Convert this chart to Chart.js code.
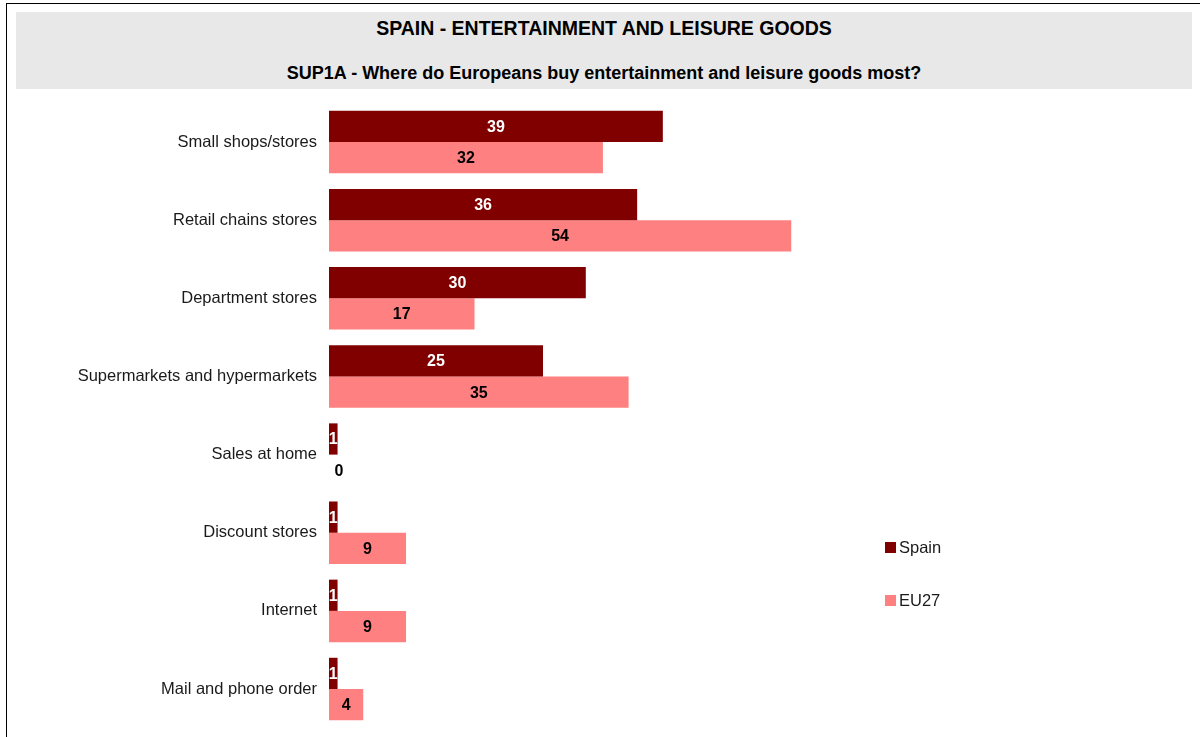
<!DOCTYPE html>
<html>
<head>
<meta charset="utf-8">
<script src="https://cdn.jsdelivr.net/npm/chart.js@4"></script>
<style>
  body { margin: 0; background: #fff; font-family: "Liberation Sans", Arial, sans-serif; }
  #wrap { position: relative; width: 1200px; height: 737px; overflow: hidden; }
  #frame { position: absolute; left: 6px; top: 3px; width: 1200px; height: 800px; border-left: 1px solid #000; border-top: 1px solid #000; }
  #band { position: absolute; left: 16px; top: 12px; width: 1176px; height: 77px; background: #e8e8e8; }
  #title { position: absolute; left: 16px; width: 1176px; top: 17px; line-height: 23px; text-align: center; font-weight: bold; font-size: 19.5px; color: #000; }
  #subtitle { position: absolute; left: 16px; width: 1176px; top: 63px; line-height: 21px; text-align: center; font-weight: bold; font-size: 18px; color: #000; }
  canvas { position: absolute; left: 0; top: 0; }
</style>
</head>
<body>
<div id="wrap">
  <div id="frame"></div>
  <div id="band"></div>
  <div id="title">SPAIN - ENTERTAINMENT AND LEISURE GOODS</div>
  <div id="subtitle">SUP1A - Where do Europeans buy entertainment and leisure goods most?</div>
  <!-- canvas a bit taller than the page; the wrapper clips it -->
  <canvas id="myChart" width="1200" height="742"></canvas>
</div>
<script>
const categories = ['Small shops/stores', 'Retail chains stores', 'Department stores',
  'Supermarkets and hypermarkets', 'Sales at home', 'Discount stores', 'Internet',
  'Mail and phone order'];
const spain = [39, 36, 30, 25, 1, 1, 1, 1];
const eu27 = [32, 54, 17, 35, 0, 9, 9, 4];

// value labels in the middle of each bar
const barLabels = {
  id: 'barLabels',
  afterDatasetsDraw(chart) {
    const ctx = chart.ctx;
    const base = chart.scales.x.getPixelForValue(0);
    ctx.save();
    ctx.font = 'bold 16px "Liberation Sans", Arial';
    ctx.textAlign = 'center';
    ctx.textBaseline = 'middle';
    chart.data.datasets.forEach((ds, i) => {
      chart.getDatasetMeta(i).data.forEach((bar, j) => {
        const v = ds.data[j];
        const x = v === 0 ? base + 10 : (base + bar.x) / 2;
        ctx.fillStyle = ds.labelColor;
        ctx.fillText(String(v), x, bar.y + 1);
      });
    });
    ctx.restore();
  }
};

// legend on the right side
const sideLegend = {
  id: 'sideLegend',
  afterDraw(chart) {
    const ctx = chart.ctx;
    ctx.save();
    ctx.font = '16.5px "Liberation Sans", Arial';
    ctx.textBaseline = 'middle';
    chart.data.datasets.forEach((ds, i) => {
      const y = 548 + i * 53;
      ctx.fillStyle = ds.backgroundColor;
      ctx.fillRect(885, y - 6, 11, 11);
      ctx.fillStyle = '#1a1a1a';
      ctx.fillText(ds.label, 899, y);
    });
    ctx.restore();
  }
};

const ctx = document.getElementById('myChart').getContext('2d');
const myChart = new Chart(ctx, {
  type: 'bar',
  data: {
    labels: categories,
    datasets: [{
      label: 'Spain',
      data: spain,
      backgroundColor: '#800000',
      labelColor: '#ffffff'
    }, {
      label: 'EU27',
      data: eu27,
      backgroundColor: '#ff8080',
      labelColor: '#000000'
    }]
  },
  options: {
    indexAxis: 'y',
    responsive: false,
    animation: false,
    layout: { padding: { left: 0, right: 15, top: 103, bottom: 0 } },
    datasets: { bar: { barPercentage: 1, categoryPercentage: 0.8 } },
    scales: {
      x: { display: false, min: 0, max: 100 },
      y: {
        grid: { display: false },
        border: { display: false },
        ticks: {
          padding: 4,
          color: '#1a1a1a',
          font: { family: '"Liberation Sans", Arial', size: 16.5 }
        },
        afterFit(scale) { scale.width = 329; }
      }
    },
    plugins: {
      legend: { display: false },
      tooltip: { enabled: false }
    }
  },
  plugins: [barLabels, sideLegend]
});
</script>
</body>
</html>
